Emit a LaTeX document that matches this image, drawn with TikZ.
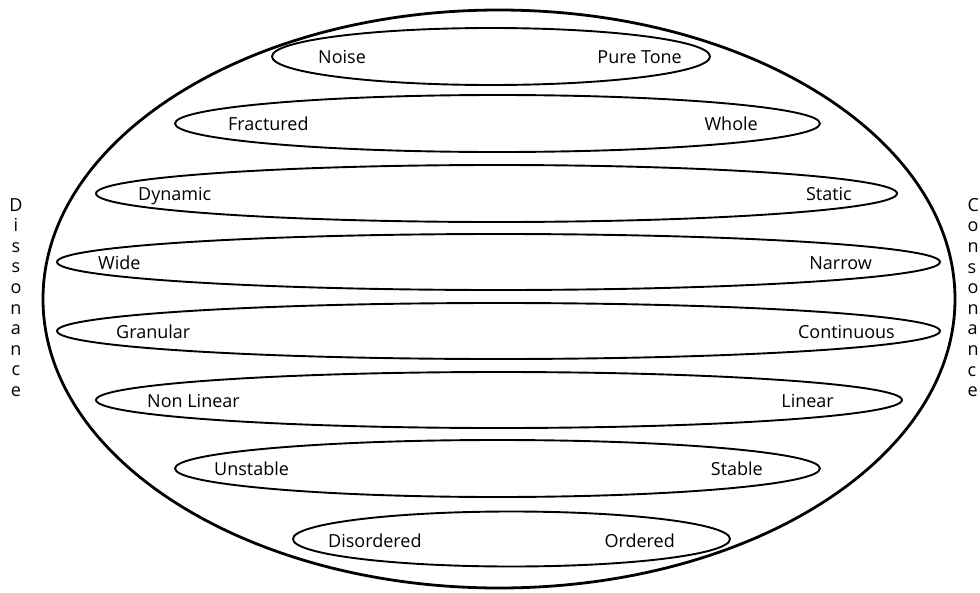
\documentclass[tikz,border=0pt]{standalone}
\usepackage{fontspec}
\setmainfont{Open Sans}
\usetikzlibrary{shapes.geometric}
\tikzset{
  outerring/.style={draw=black, line width=2.8pt, ellipse, inner sep=0pt, outer sep=0pt},
  band/.style={draw=black, line width=1.9pt, ellipse, inner sep=0pt, outer sep=0pt},
  lbl/.style={font=\fontsize{18}{21}\selectfont, inner sep=0pt, text=black},
  vert/.style={font=\fontsize{18}{20.6}\selectfont, inner sep=0pt, text=black}
}
\begin{document}
\begin{tikzpicture}[x=1pt,y=-1pt]
\useasboundingbox (0,0) rectangle (980,592);
\fill[white] (0,0) rectangle (980,592);

% outer ellipse
\node[outerring, minimum width=912pt, minimum height=578pt] (outer) at (499,299) {};

% bands
\node[band, minimum width=438pt, minimum height=57pt] (b1) at (491,56.5) {};
\node[band, minimum width=645pt, minimum height=57pt] (b2) at (497.5,123.5) {};
\node[band, minimum width=801pt, minimum height=57pt] (b3) at (496.5,193.5) {};
\node[band, minimum width=883pt, minimum height=56pt] (b4) at (498.5,262) {};
\node[band, minimum width=883pt, minimum height=56pt] (b5) at (498.5,331) {};
\node[band, minimum width=806pt, minimum height=56pt] (b6) at (499,400) {};
\node[band, minimum width=645pt, minimum height=57pt] (b7) at (497.5,468.5) {};
\node[band, minimum width=437pt, minimum height=55pt] (b8) at (511.5,539) {};

% left labels
\node[lbl, anchor=base west] (l1) at (318,63) {Noise};
\node[lbl, anchor=base west] (l2) at (228,130.5) {Fractured};
\node[lbl, anchor=base west] (l3) at (138,200.5) {Dynamic};
\node[lbl, anchor=base west] (l4) at (98,269) {Wide};
\node[lbl, anchor=base west] (l5) at (116,338) {Granular};
\node[lbl, anchor=base west] (l6) at (147,407) {Non Linear};
\node[lbl, anchor=base west] (l7) at (214,475.5) {Unstable};
\node[lbl, anchor=base west] (l8) at (328,547) {Disordered};

% right labels
\node[lbl, anchor=base east] (r1) at (682,63) {Pure Tone};
\node[lbl, anchor=base east] (r2) at (758,130.5) {Whole};
\node[lbl, anchor=base east] (r3) at (852,200.5) {Static};
\node[lbl, anchor=base east] (r4) at (872,269) {Narrow};
\node[lbl, anchor=base east] (r5) at (895,338) {Continuous};
\node[lbl, anchor=base east] (r6) at (834,407) {Linear};
\node[lbl, anchor=base east] (r7) at (763,475.5) {Stable};
\node[lbl, anchor=base east] (r8) at (675,547) {Ordered};

% side labels
\node[vert, align=center, anchor=north] (dis) at (16,198)
  {D\\i\\s\\s\\o\\n\\a\\n\\c\\e};
\node[vert, align=left, anchor=north west] (con) at (967.5,198)
  {C\\o\\n\\s\\o\\n\\a\\n\\c\\e};
\end{tikzpicture}
\end{document}
